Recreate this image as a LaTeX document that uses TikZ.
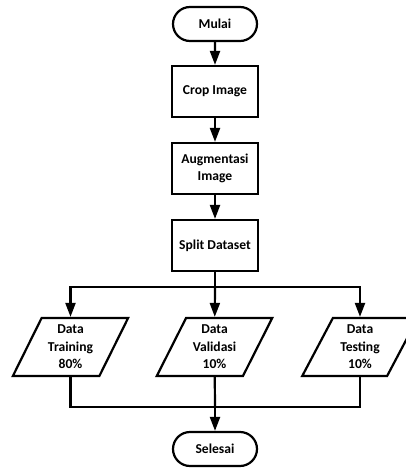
\documentclass[tikz,border=0pt]{standalone}
\usepackage{fontspec}
\setmainfont{Carlito}
\usetikzlibrary{arrows.meta,shapes.misc,shapes.geometric}
\begin{document}
\begin{tikzpicture}[x=1pt,y=-1pt,line width=2.2pt,>={Triangle[length=14pt,width=10pt]},
	font=\bfseries\fontsize{13.6}{17.5}\selectfont,
	terminal/.style={draw,rounded rectangle,minimum width=86pt,minimum height=34pt,inner sep=1pt},
	proses/.style={draw,rectangle,minimum width=86pt,minimum height=51pt,align=center,inner sep=1pt},
	data/.style={draw,trapezium,trapezium left angle=63,trapezium right angle=117,trapezium stretches=true,minimum width=116pt,minimum height=58pt,align=center,inner sep=1pt}]
	\useasboundingbox (0,0) rectangle (406,468);
	%	node alur
	\node[terminal] (mulai) at (215,24) {Mulai};
	\node[proses] (crop) at (215,91.5) {Crop Image};
	\node[proses] (augmen) at (215,168.5) {Augmentasi\\Image};
	\node[proses] (split) at (215,245.5) {Split Dataset};
	\node[data] (train) at (70.5,347) {Data\\Training\\80\%};
	\node[data] (valid) at (214.5,347) {Data\\Validasi\\10\%};
	\node[data] (test) at (360,347) {Data\\Testing\\10\%};
	\node[terminal] (selesai) at (215,449) {Selesai};
	\path
	(215,287) coordinate (cabang)
	(215,407) coordinate (gabung)
	;
	%	garis
	\draw[->] (mulai)--(crop);
	\draw[->] (crop)--(augmen);
	\draw[->] (augmen)--(split);
	\draw (split)--(cabang);
	\draw[->] (cabang)-|(train);
	\draw[->] (cabang)-|(test);
	\draw[->] (cabang)--(valid);
	\draw (train)|-(gabung) (test)|-(gabung);
	\draw (valid)--(gabung);
	\draw[->] (gabung)--(selesai);
\end{tikzpicture}
\end{document}
